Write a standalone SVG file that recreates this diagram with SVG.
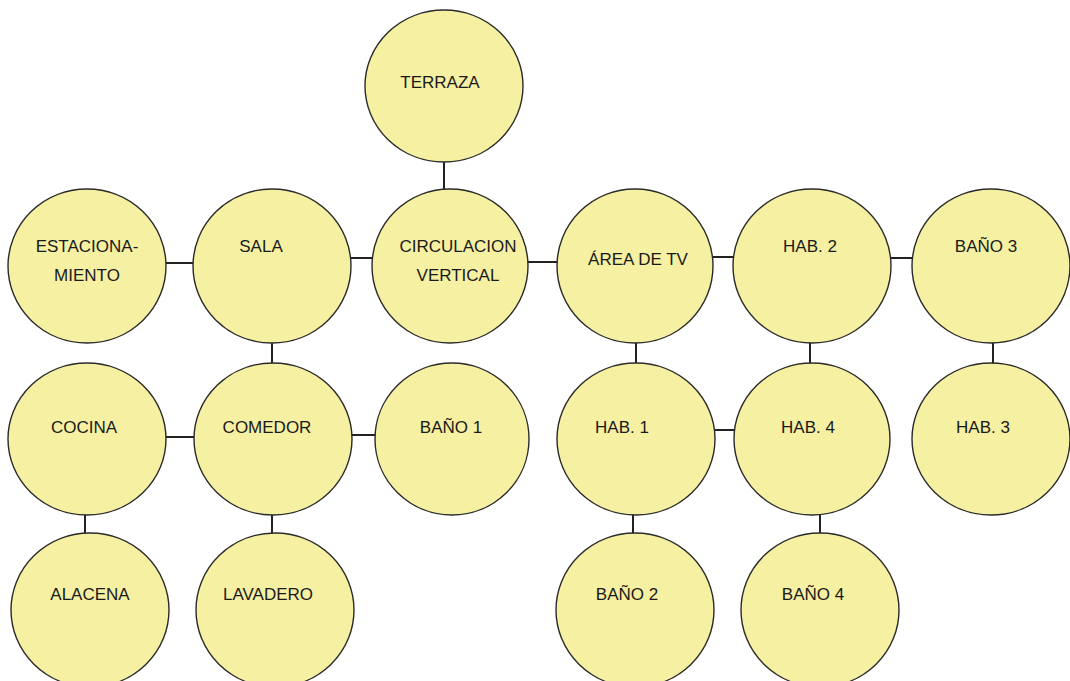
<svg xmlns="http://www.w3.org/2000/svg" width="1070" height="681" viewBox="0 0 1070 681">
  <style>
    .room ellipse { fill: #F6F0A2; stroke: #2a2a2a; stroke-width: 1.4; }
    .room text { font-family: "Liberation Sans", Arial, sans-serif; font-size: 17px; fill: #1a1a1a; text-anchor: middle; }
    #links line { stroke: #222; stroke-width: 2; }
  </style>
  <rect width="1070" height="681" fill="#ffffff"/>

  <g id="links">
    <line x1="444" y1="160" x2="444" y2="192"/>
    <line x1="164" y1="263" x2="195" y2="263"/>
    <line x1="347" y1="258" x2="374" y2="258"/>
    <line x1="526" y1="262" x2="559" y2="262"/>
    <line x1="711" y1="257" x2="736" y2="257"/>
    <line x1="890" y1="258" x2="915" y2="258"/>
    <line x1="272" y1="340" x2="272" y2="365"/>
    <line x1="636" y1="340" x2="636" y2="365"/>
    <line x1="810" y1="340" x2="810" y2="365"/>
    <line x1="993" y1="340" x2="993" y2="365"/>
    <line x1="165" y1="437" x2="196" y2="437"/>
    <line x1="350" y1="435" x2="377" y2="435"/>
    <line x1="714" y1="430" x2="736" y2="430"/>
    <line x1="85" y1="513" x2="85" y2="535"/>
    <line x1="272" y1="513" x2="272" y2="535"/>
    <line x1="633" y1="513" x2="633" y2="535"/>
    <line x1="820" y1="513" x2="820" y2="535"/>
  </g>

  <g id="terraza" class="room"><ellipse cx="444" cy="86" rx="79" ry="76"/><text x="440" y="88">TERRAZA</text></g>
  <g id="estacionamiento" class="room"><ellipse cx="87" cy="266" rx="79" ry="77"/><text x="87" y="252">ESTACIONA-</text><text x="87" y="281">MIENTO</text></g>
  <g id="sala" class="room"><ellipse cx="272" cy="266" rx="79" ry="77"/><text x="261" y="252">SALA</text></g>
  <g id="circulacion" class="room"><ellipse cx="450" cy="266" rx="78" ry="77"/><text x="458" y="252">CIRCULACION</text><text x="458" y="281">VERTICAL</text></g>
  <g id="area-tv" class="room"><ellipse cx="635" cy="266" rx="78" ry="77"/><text x="638" y="265">ÁREA DE TV</text></g>
  <g id="hab2" class="room"><ellipse cx="812" cy="266" rx="79" ry="77"/><text x="810" y="252">HAB. 2</text></g>
  <g id="bano3" class="room"><ellipse cx="991" cy="266" rx="79" ry="77"/><text x="986" y="252">BAÑO 3</text></g>
  <g id="cocina" class="room"><ellipse cx="87" cy="439" rx="79" ry="76"/><text x="84" y="433">COCINA</text></g>
  <g id="comedor" class="room"><ellipse cx="273" cy="439" rx="79" ry="76"/><text x="267" y="433">COMEDOR</text></g>
  <g id="bano1" class="room"><ellipse cx="452" cy="439" rx="77" ry="76"/><text x="451" y="433">BAÑO 1</text></g>
  <g id="hab1" class="room"><ellipse cx="636" cy="439" rx="79" ry="76"/><text x="622" y="433">HAB. 1</text></g>
  <g id="hab4" class="room"><ellipse cx="812" cy="439" rx="78" ry="76"/><text x="808" y="433">HAB. 4</text></g>
  <g id="hab3" class="room"><ellipse cx="991" cy="439" rx="79" ry="76"/><text x="983" y="433">HAB. 3</text></g>
  <g id="alacena" class="room"><ellipse cx="90" cy="610" rx="79" ry="77"/><text x="90" y="600">ALACENA</text></g>
  <g id="lavadero" class="room"><ellipse cx="275" cy="610" rx="79" ry="77"/><text x="268" y="600">LAVADERO</text></g>
  <g id="bano2" class="room"><ellipse cx="635" cy="610" rx="79" ry="77"/><text x="627" y="600">BAÑO 2</text></g>
  <g id="bano4" class="room"><ellipse cx="820" cy="610" rx="79" ry="77"/><text x="813" y="600">BAÑO 4</text></g>
</svg>
